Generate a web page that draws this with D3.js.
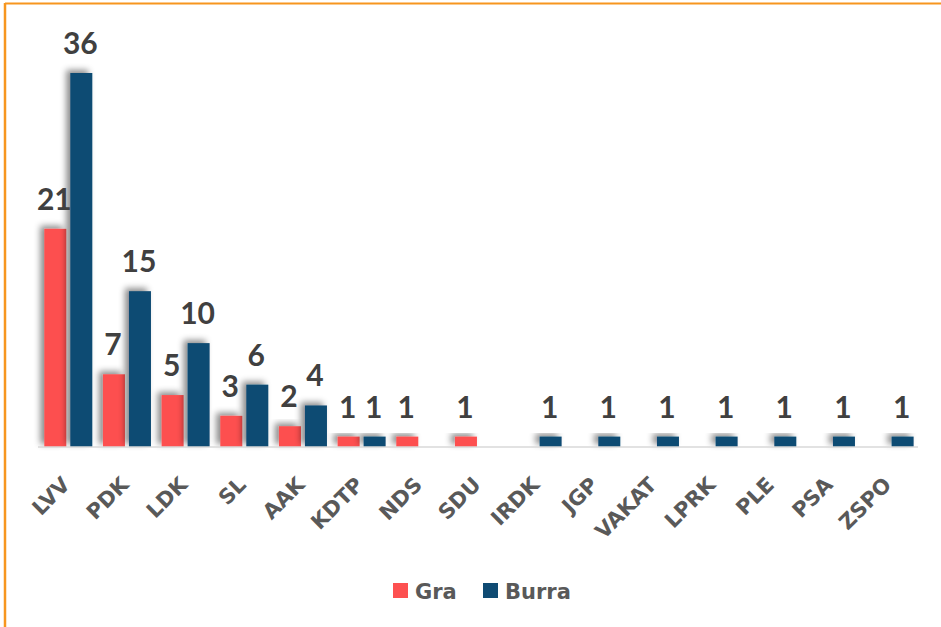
<!DOCTYPE html>
<meta charset="utf-8">
<style>
 body { margin: 0; background: #fff; }
 svg { display: block; background: #fff; font-family: "Lato", "DejaVu Sans", sans-serif; }
 .val { font-weight: bold; fill: #404040; font-size: 30px; }
 .cat { font-family: "DejaVu Sans", sans-serif; font-weight: bold; fill: #595959; font-size: 21px; }
 .leg { font-family: "DejaVu Sans", sans-serif; font-weight: bold; fill: #595959; font-size: 21px; }
</style>
<body>
<svg width="941" height="627"></svg>
<script src="https://cdn.jsdelivr.net/npm/d3@7"></script>
<script>
 // party names and seats
 var parties = ["LVV", "PDK", "LDK", "SL", "AAK", "KDTP", "NDS", "SDU", "IRDK", "JGP", "VAKAT", "LPRK", "PLE", "PSA", "ZSPO"];
 var gra   = [21, 7, 5, 3, 2, 1, 1, 1, 0, 0, 0, 0, 0, 0, 0];
 var burra = [36, 15, 10, 6, 4, 1, 0, 0, 1, 1, 1, 1, 1, 1, 1];
 var seriesNames = ["Gra", "Burra"];
 var colors = ["#fd5050", "#0f4b73"];

 var svg = d3.select("svg");

 // frame (orange, top and left only)
 svg.append("line").attr("x1", 5).attr("x2", 941).attr("y1", 3.5).attr("y2", 3.5)
    .attr("stroke", "#f7961f").attr("stroke-width", 2);
 svg.append("line").attr("x1", 5).attr("x2", 5).attr("y1", 3).attr("y2", 627)
    .attr("stroke", "#f7961f").attr("stroke-width", 2.5);

 var defs = svg.append("defs");
 var f = defs.append("filter").attr("id", "shadow")
    .attr("x", "-60%").attr("y", "-30%").attr("width", "200%").attr("height", "160%");
 f.append("feDropShadow").attr("dx", -4).attr("dy", -3).attr("stdDeviation", 3)
    .attr("flood-color", "#000").attr("flood-opacity", 0.45);

 var x = d3.scaleBand().domain(parties).range([38, 918]).paddingInner(0).paddingOuter(0);
 var inner = d3.scaleBand().domain(seriesNames).range([6.3, 6.3 + 48]).paddingInner(4 / 26);
 var y = d3.scaleLinear().domain([0, 36]).range([447, 73]);

 var rows = [];
 parties.forEach(function(p, i) {
     [gra[i], burra[i]].forEach(function(v, k) {
         if (v > 0) rows.push({ party: p, series: seriesNames[k], value: v, color: colors[k] });
     });
 });

 var g = svg.append("g");
 g.selectAll("rect.bar")
  .data(rows)
  .enter().append("rect")
  .attr("class", "bar")
  .attr("x", function(d) { return x(d.party) + inner(d.series); })
  .attr("y", function(d) { return y(d.value); })
  .attr("width", inner.bandwidth())
  .attr("height", function(d) { return y(0) - y(d.value); })
  .attr("fill", function(d) { return d.color; })
  .attr("filter", "url(#shadow)");

 // baseline
 svg.append("line").attr("x1", 38).attr("x2", 918).attr("y1", 447).attr("y2", 447)
    .attr("stroke", "#d9d9d9").attr("stroke-width", 1.5);

 g.selectAll("text.val")
  .data(rows)
  .enter().append("text")
  .attr("class", "val")
  .attr("text-anchor", "middle")
  .attr("x", function(d) { return x(d.party) + inner(d.series) + inner.bandwidth() / 2 - 1; })
  .attr("y", function(d) { return y(d.value) - 19; })
  .text(function(d) { return d.value; });

 // category labels, rotated
 svg.selectAll("text.cat")
  .data(parties)
  .enter().append("text")
  .attr("class", "cat")
  .attr("text-anchor", "end")
  .attr("transform", function(d) {
      return "translate(" + (x(d) + x.bandwidth() / 2 + 4) + ",486) rotate(-45)";
  })
  .text(function(d) { return d; });

 // legend
 var leg = svg.append("g").attr("transform", "translate(393,583)");
 var lx = [0, 90];
 seriesNames.forEach(function(s, i) {
     leg.append("rect").attr("x", lx[i]).attr("y", 0).attr("width", 15).attr("height", 15).attr("fill", colors[i]);
     leg.append("text").attr("class", "leg").attr("x", lx[i] + 22).attr("y", 15.5).text(s);
 });
</script>
</body>
